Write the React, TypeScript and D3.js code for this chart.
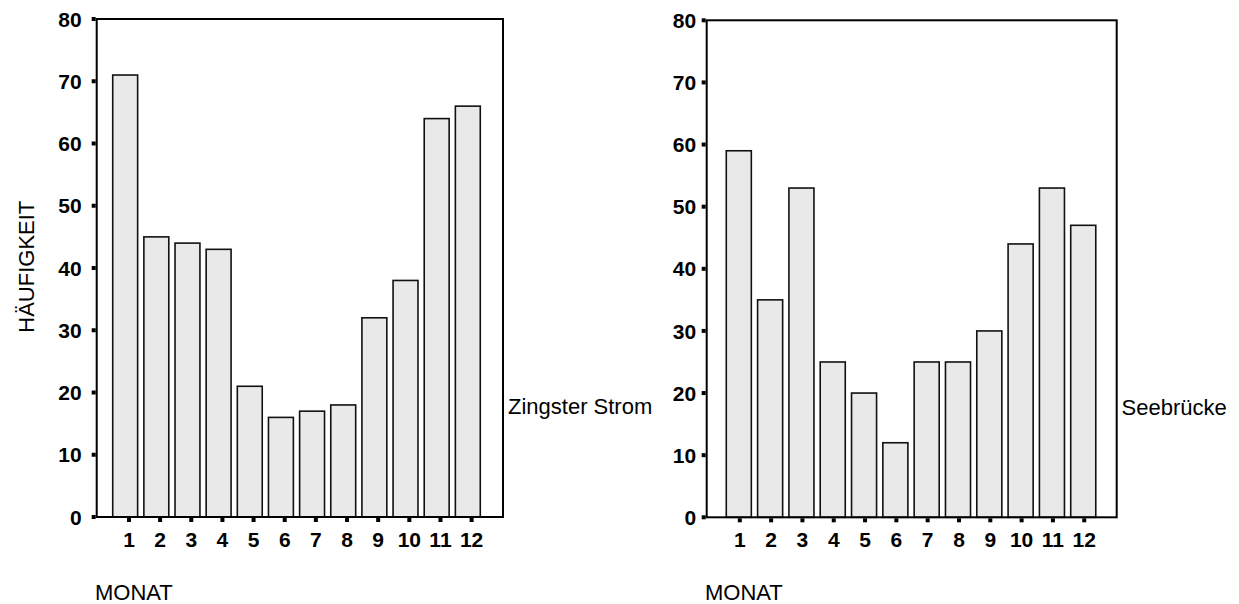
import React from "react";
import * as d3 from "d3";

const months = ["1", "2", "3", "4", "5", "6", "7", "8", "9", "10", "11", "12"];
const zingsterValues = [71, 45, 44, 43, 21, 16, 17, 18, 32, 38, 64, 66];
const seebrueckeValues = [59, 35, 53, 25, 20, 12, 25, 25, 30, 44, 53, 47];
const yTicks = [0, 10, 20, 30, 40, 50, 60, 70, 80];
const yAxisTitle = "HÄUFIGKEIT";
const xAxisTitle = "MONAT";

const FONT = "'Liberation Sans', Arial, Helvetica, sans-serif";

type PanelProps = {
  values: number[];
  label: string;
  left: number;
  right: number;
  top: number;
  bottom: number;
  bandStart: number;
  bandEnd: number;
  tickOffset: number;
  labelGap: number;
  labelX: number;
  labelY: number;
  titleX: number;
};

function Panel(p: PanelProps) {
  const y = d3.scaleLinear().domain([0, 80]).range([p.bottom, p.top]);
  const x = d3
    .scaleBand<string>()
    .domain(months)
    .range([p.bandStart, p.bandEnd])
    .paddingInner(0.2)
    .paddingOuter(0.1);
  const bw = x.bandwidth();
  return (
    <g>
      {months.map((m, i) => (
        <rect
          key={m}
          x={x(m)!}
          y={y(p.values[i])}
          width={bw}
          height={y(0) - y(p.values[i])}
          fill="#e9e9e9"
          stroke="#111"
          strokeWidth={1.6}
        />
      ))}
      <rect
        x={p.left}
        y={p.top}
        width={p.right - p.left}
        height={p.bottom - p.top}
        fill="none"
        stroke="#000"
        strokeWidth={2}
      />
      {yTicks.map((t) => (
        <g key={t}>
          <rect x={p.left - 5} y={y(t) - 2} width={4} height={4} fill="#000" />
          <text
            x={p.left - p.labelGap}
            y={y(t) + 7.6}
            textAnchor="end"
            fontFamily={FONT}
            fontWeight="bold"
            fontSize={21}
            fill="#000"
          >
            {t}
          </text>
        </g>
      ))}
      {months.map((m) => {
        const cx = x(m)! + bw / 2 + p.tickOffset;
        return (
          <g key={m}>
            <rect x={cx - 2} y={p.bottom + 1} width={4} height={4} fill="#000" />
            <text
              x={cx}
              y={547}
              textAnchor="middle"
              fontFamily={FONT}
              fontWeight="bold"
              fontSize={21}
              fill="#000"
            >
              {m}
            </text>
          </g>
        );
      })}
      <text x={p.labelX} y={p.labelY} fontFamily={FONT} fontSize={22} fill="#000">
        {p.label}
      </text>
      <text x={p.titleX} y={600} fontFamily={FONT} fontSize={22} fill="#000">
        {xAxisTitle}
      </text>
    </g>
  );
}

export default function App() {
  return (
    <svg
      width={1239}
      height={604}
      style={{ position: "fixed", left: 0, top: 0, background: "#fff" }}
    >
      <rect x={0} y={0} width={1239} height={604} fill="#fff" />
      <Panel
        values={zingsterValues}
        label="Zingster Strom"
        left={96.7}
        right={503}
        top={19}
        bottom={517}
        bandStart={109.6}
        bandEnd={483.4}
        tickOffset={3.8}
        labelGap={15}
        labelX={508}
        labelY={413.5}
        titleX={95}
      />
      <Panel
        values={seebrueckeValues}
        label="Seebrücke"
        left={706.7}
        right={1116.7}
        top={20.3}
        bottom={517.3}
        bandStart={723.15}
        bandEnd={1098.9}
        tickOffset={1}
        labelGap={10.5}
        labelX={1121.5}
        labelY={415}
        titleX={705}
      />
      <text
        transform="translate(33.5,266.7) rotate(-90)"
        textAnchor="middle"
        fontFamily={FONT}
        fontSize={22}
        fill="#000"
      >
        {yAxisTitle}
      </text>
    </svg>
  );
}
